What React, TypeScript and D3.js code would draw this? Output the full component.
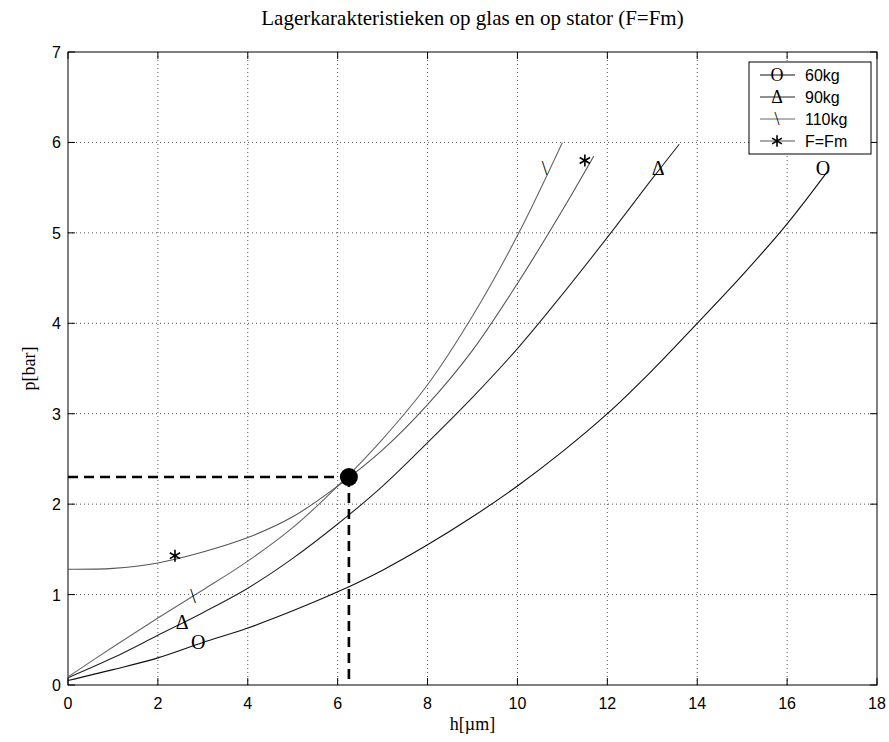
import * as d3 from "d3";

// h [µm] samples and p [bar] values for each load case
const h60 = [0, 1, 2, 3, 4, 5, 6, 7, 8, 9, 10, 11, 12, 13, 14, 15, 16, 16.9];
const p60 = [0.05, 0.17, 0.3, 0.47, 0.63, 0.82, 1.03, 1.27, 1.55, 1.86, 2.2, 2.58, 3.0, 3.48, 4.0, 4.53, 5.1, 5.68];

const h90 = [0, 1, 2, 3, 4, 5, 6, 7, 8, 9, 10, 11, 12, 13, 13.6];
const p90 = [0.08, 0.3, 0.55, 0.8, 1.07, 1.4, 1.78, 2.2, 2.68, 3.18, 3.72, 4.32, 4.95, 5.6, 5.98];

const h110 = [0, 1, 2, 3, 4, 5, 6, 7, 8, 9, 10, 11];
const p110 = [0.09, 0.42, 0.74, 1.05, 1.37, 1.74, 2.2, 2.72, 3.32, 4.08, 4.97, 6.0];

const hFm = [0, 1, 2, 3, 4, 5, 6, 7, 8, 9, 10, 11, 11.7];
const pFm = [1.28, 1.29, 1.35, 1.47, 1.63, 1.86, 2.2, 2.6, 3.1, 3.7, 4.44, 5.25, 5.85];

// text markers placed on the curves
const markH60 = [2.9, 16.8];
const markP60 = [0.47, 5.72];
const markH90 = [2.54, 13.13];
const markP90 = [0.7, 5.72];
const markH110 = [2.78, 10.6];
const markP110 = [0.98, 5.72];
const markHFm = [2.38, 11.5];
const markPFm = [1.43, 5.8];

// operating point
const opH = 6.25;
const opP = 2.3;

const hTicks = [0, 2, 4, 6, 8, 10, 12, 14, 16, 18];
const pTicks = [0, 1, 2, 3, 4, 5, 6, 7];

const labels = ["60kg", "90kg", "110kg", "F=Fm"];
const symbols = ["O", "Δ", "\\", "*"];

const W = 889,
  H = 742;
const margin = { top: 52, right: 12, bottom: 57, left: 68 };

function Marker({ s, cx, cy, size }: { s: string; cx: number; cy: number; size: number }) {
  if (s === "*") {
    const star = d3.symbol(d3.symbolAsterisk, size * 5)();
    return (
      <path d={star || ""} transform={`translate(${cx},${cy})`} fill="none" stroke="#000" strokeWidth={1.6} />
    );
  }
  return (
    <text
      x={cx}
      y={cy + size * 0.34}
      textAnchor="middle"
      fontFamily="'Liberation Serif', 'Times New Roman', serif"
      fontSize={size}
      fill="#000"
    >
      {s}
    </text>
  );
}

export default function App() {
  const x = d3.scaleLinear().domain([0, 18]).range([margin.left, W - margin.right]);
  const y = d3.scaleLinear().domain([0, 7]).range([H - margin.bottom, margin.top]);
  const line = d3
    .line<[number, number]>()
    .x((d) => x(d[0]))
    .y((d) => y(d[1]))
    .curve(d3.curveCatmullRom.alpha(0.5));

  const series = [
    { h: h60, p: p60, mh: markH60, mp: markP60, color: "#111" },
    { h: h90, p: p90, mh: markH90, mp: markP90, color: "#222" },
    { h: h110, p: p110, mh: markH110, mp: markP110, color: "#666" },
    { h: hFm, p: pFm, mh: markHFm, mp: markPFm, color: "#555" },
  ];

  const x0 = x(0),
    x1 = x(18),
    y0 = y(0),
    y1 = y(7);
  const tick = 7;
  const sans = "'Liberation Sans', Arial, sans-serif";
  const serif = "'Liberation Serif', 'Times New Roman', serif";

  const lg = { x: 749, y: 62, w: 122, h: 92 };

  return (
    <svg
      width={W}
      height={H}
      style={{ position: "absolute", left: 0, top: 0, background: "#fff" }}
    >
      {/* grid */}
      <g stroke="#555" strokeWidth={1} strokeDasharray="1,3">
        {hTicks.slice(1, -1).map((t) => (
          <line key={"gx" + t} x1={x(t)} x2={x(t)} y1={y0} y2={y1} />
        ))}
        {pTicks.slice(1, -1).map((t) => (
          <line key={"gy" + t} x1={x0} x2={x1} y1={y(t)} y2={y(t)} />
        ))}
      </g>

      {/* ticks on all four sides */}
      <g stroke="#000" strokeWidth={1}>
        {hTicks.map((t) => (
          <g key={"tx" + t}>
            <line x1={x(t)} x2={x(t)} y1={y0} y2={y0 - tick} />
            <line x1={x(t)} x2={x(t)} y1={y1} y2={y1 + tick} />
          </g>
        ))}
        {pTicks.map((t) => (
          <g key={"ty" + t}>
            <line x1={x0} x2={x0 + tick} y1={y(t)} y2={y(t)} />
            <line x1={x1} x2={x1 - tick} y1={y(t)} y2={y(t)} />
          </g>
        ))}
      </g>
      <rect x={x0} y={y1} width={x1 - x0} height={y0 - y1} fill="none" stroke="#000" />

      {/* tick labels */}
      <g fontFamily={sans} fontSize={16} fill="#000">
        {hTicks.map((t) => (
          <text key={"lx" + t} x={x(t)} y={y0 + 24} textAnchor="middle">
            {t}
          </text>
        ))}
        {pTicks.map((t) => (
          <text key={"ly" + t} x={x0 - 7} y={y(t) + 6} textAnchor="end">
            {t}
          </text>
        ))}
      </g>

      {/* curves */}
      {series.map((s, i) => (
        <path
          key={"c" + i}
          d={line(s.h.map((h, j) => [h, s.p[j]] as [number, number])) || ""}
          fill="none"
          stroke={s.color}
          strokeWidth={1.1}
        />
      ))}

      {/* curve markers */}
      {series.map((s, i) =>
        s.mh.map((h, j) => (
          <Marker key={"m" + i + j} s={symbols[i]} cx={x(h)} cy={y(s.mp[j])} size={20} />
        ))
      )}

      {/* operating point with dashed guides */}
      <g stroke="#000" strokeWidth={2.6} strokeDasharray="10,6" fill="none">
        <line x1={x0} x2={x(opH)} y1={y(opP)} y2={y(opP)} />
        <line x1={x(opH)} x2={x(opH)} y1={y(opP)} y2={y0} />
      </g>
      <circle cx={x(opH)} cy={y(opP)} r={9} fill="#000" />

      {/* legend */}
      <rect x={lg.x} y={lg.y} width={lg.w} height={lg.h} fill="#fff" stroke="#000" />
      {labels.map((l, i) => {
        const ly = lg.y + 13 + i * 22;
        return (
          <g key={"lg" + i}>
            <line x1={lg.x + 11} x2={lg.x + 46} y1={ly} y2={ly} stroke={series[i].color} />
            <Marker s={symbols[i]} cx={lg.x + 28} cy={ly} size={18} />
            <text x={lg.x + 56} y={ly + 6} fontFamily={sans} fontSize={16}>
              {l}
            </text>
          </g>
        );
      })}

      {/* titles */}
      <text x={(x0 + x1) / 2} y={25} textAnchor="middle" fontFamily={serif} fontSize={21}>
        Lagerkarakteristieken op glas en op stator (F=Fm)
      </text>
      <text x={(x0 + x1) / 2} y={730} textAnchor="middle" fontFamily={serif} fontSize={18}>
        h[µm]
      </text>
      <text
        transform={`translate(35,${(y0 + y1) / 2}) rotate(-90)`}
        textAnchor="middle"
        fontFamily={serif}
        fontSize={18}
      >
        p[bar]
      </text>
    </svg>
  );
}
